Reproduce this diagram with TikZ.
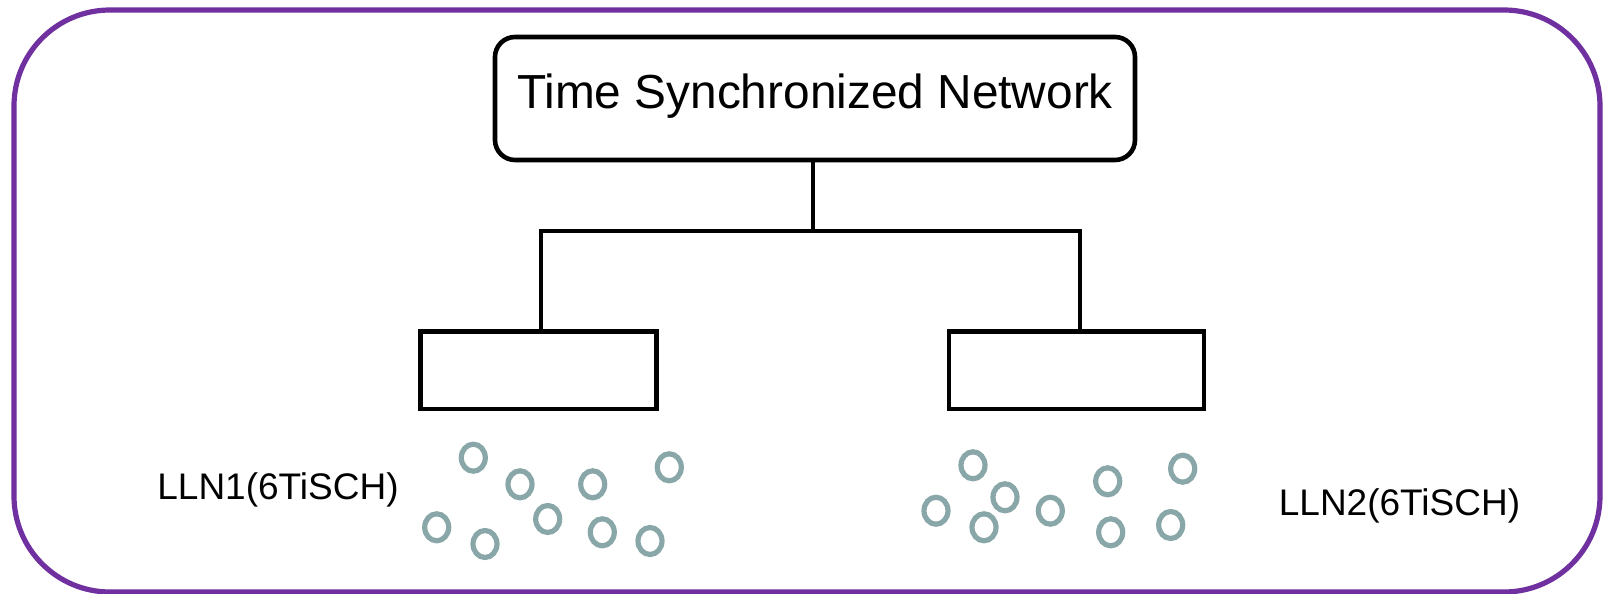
\documentclass[tikz,border=0pt]{standalone}
\usepackage{fontspec}
\setmainfont{Liberation Sans}
\usetikzlibrary{shapes.geometric}
\definecolor{framepurple}{RGB}{112,48,160}
\definecolor{nodegray}{RGB}{137,167,168}
\tikzset{
  frame/.style={draw=framepurple, line width=2.6pt, rounded corners=48pt},
  topbox/.style={draw=black, line width=2.3pt, rounded corners=10pt, minimum width=320pt, minimum height=61.5pt, inner sep=0pt},
  llnbox/.style={draw=black, line width=2.3pt, minimum height=38.7pt, inner sep=0pt},
  wire/.style={draw=black, line width=2.2pt},
  mote/.style={ellipse, draw=nodegray, line width=2.6pt, minimum width=12pt, minimum height=13.5pt, inner sep=0pt},
  titletext/.style={font=\fontsize{23.9pt}{28pt}\selectfont, inner sep=0pt},
  llntext/.style={font=\fontsize{18.5pt}{22pt}\selectfont, inner sep=0pt},
}
\begin{document}
\begin{tikzpicture}[x=0.5pt, y=-0.5pt]
\useasboundingbox (0,0) rectangle (1603,594);
\draw[frame] (14,10) rectangle (1600,592);

\node[topbox] (tsn) at (815,98.5) {};
\node[titletext, anchor=base] (tsnlabel) at (815,108) {Time Synchronized Network};

\node[llnbox, minimum width=118pt] (box1) at (538.7,370.3) {};
\node[llnbox, minimum width=127.5pt] (box2) at (1076.5,370.3) {};

\coordinate (j) at (813,231);
\coordinate (jl) at (541,231);
\coordinate (jr) at (1080,231);
\draw[wire] (tsn.south -| j) -- (j);
\draw[wire] (box1.north -| jl) -- (jl) -- (jr) -- (box2.north -| jr);

\node[llntext] (lln1) at (278,490) {LLN1(6TiSCH)};
\node[llntext] (lln2) at (1399.5,506) {LLN2(6TiSCH)};

\node[mote] (a1) at (473.3,457.7) {};
\node[mote] (a2) at (520,484.3) {};
\node[mote] (a3) at (592.7,484.3) {};
\node[mote] (a4) at (669.3,467.3) {};
\node[mote] (a5) at (436.7,527.3) {};
\node[mote] (a6) at (485,544) {};
\node[mote] (a7) at (547.7,519) {};
\node[mote] (a8) at (602.3,532.3) {};
\node[mote] (a9) at (650,541) {};

\node[mote] (b1) at (973,465.3) {};
\node[mote] (b2) at (1005,497.3) {};
\node[mote] (b3) at (936,510.7) {};
\node[mote] (b4) at (984,527.3) {};
\node[mote] (b5) at (1050.3,510.7) {};
\node[mote] (b6) at (1107.7,481.3) {};
\node[mote] (b7) at (1182.7,468.7) {};
\node[mote] (b8) at (1110.7,532.3) {};
\node[mote] (b9) at (1170.7,525) {};
\end{tikzpicture}
\end{document}
